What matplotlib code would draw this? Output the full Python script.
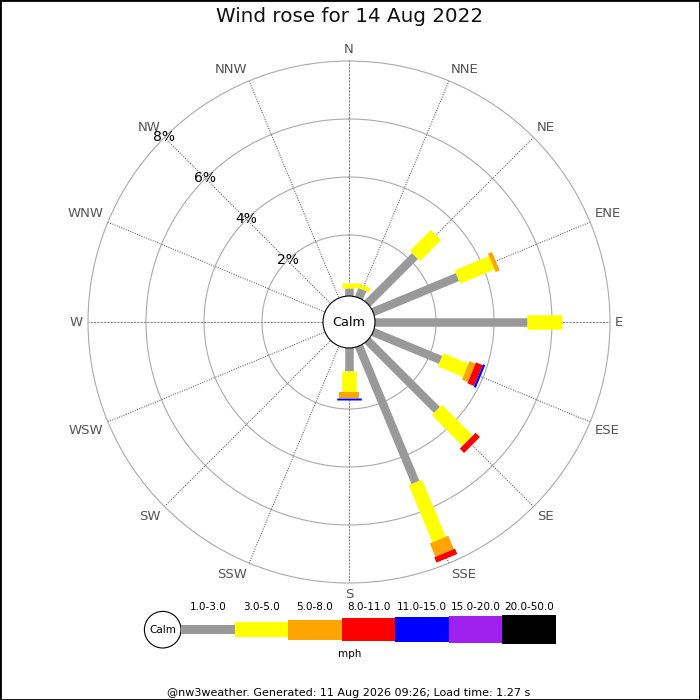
import numpy as np
import matplotlib
matplotlib.use('Agg')
import matplotlib.pyplot as plt
from matplotlib.patches import Circle, Rectangle

# datos: porcentaje de tiempo por direccion y banda de velocidad
direcciones = ['N', 'NNE', 'NE', 'ENE', 'E', 'ESE', 'SE', 'SSE',
               'S', 'SSW', 'SW', 'WSW', 'W', 'WNW', 'NW', 'NNW']
bandas = ['1.0-3.0', '3.0-5.0', '5.0-8.0', '8.0-11.0',
          '11.0-15.0', '15.0-20.0', '20.0-50.0']
colores = ['#999999', '#ffff00', '#ffa500', '#ff0000',
           '#0000ff', '#a020f0', '#000000']
anchos_px = [8.5, 14.5, 20, 22.5, 24.5, 26.5, 28.5]

gris = [0.16, 0.21, 2.22, 3.05, 5.14, 2.42, 3.29, 4.99, 0.69, 0, 0, 0, 0, 0, 0, 0]
amarillo = [0.17, 0.15, 1.02, 1.28, 1.20, 0.94, 1.50, 2.13, 0.71, 0, 0, 0, 0, 0, 0, 0]
naranja = [0, 0, 0, 0.15, 0, 0.22, 0, 0.50, 0.21, 0, 0, 0, 0, 0, 0, 0]
rojo = [0, 0, 0, 0, 0, 0.25, 0.21, 0.20, 0, 0, 0, 0, 0, 0, 0, 0]
azul = [0, 0, 0, 0, 0, 0.08, 0, 0, 0.08, 0, 0, 0, 0, 0, 0, 0]
morado = [0] * 16
negro = [0] * 16

anillos = [2, 4, 6, 8]
titulo = 'Wind rose for 14 Aug 2022'
pie = '@nw3weather. Generated: 11 Aug 2026 09:26; Load time: 1.27 s'

R_MIN = -1
R_MAX = 8

fig = plt.figure(figsize=(7, 7), dpi=100)
ax = fig.add_axes([88 / 700, 117 / 700, 522 / 700, 522 / 700], projection='polar')
ax.set_theta_zero_location('N')
ax.set_theta_direction(-1)
ax.set_ylim(R_MIN, R_MAX)
ax.grid(False)
ax.set_xticks([])
ax.set_yticks([])
ax.spines['polar'].set_color('#aaaaaa')
ax.spines['polar'].set_linewidth(0.8)

angulos = np.deg2rad(np.arange(16) * 22.5)
circ = np.linspace(0, 2 * np.pi, 400)
for r in anillos[:-1]:
    ax.plot(circ, [r] * len(circ), color='#aaaaaa', lw=0.8, zorder=1)

for i, th in enumerate(angulos):
    if i % 4 == 0:
        ax.plot([th, th], [R_MIN, R_MAX], color='#888888', lw=0.8,
                linestyle=(0, (2, 1)), zorder=1)
    else:
        ax.plot([th, th], [R_MIN, R_MAX], color='#444444', lw=0.7,
                linestyle=(0, (1, 1.5)), zorder=1)

# barras apiladas
series = [gris, amarillo, naranja, rojo, azul, morado, negro]
acum = np.cumsum(np.array(series), axis=0)
for i, th in enumerate(angulos):
    inicio = R_MIN
    for b in range(len(series)):
        fin = acum[b, i]
        if series[b][i] > 0:
            ax.plot([th, th], [inicio, fin], color=colores[b],
                    lw=anchos_px[b] * 0.72, solid_capstyle='butt', zorder=3 + b)
        inicio = fin

# etiquetas de direccion
for nombre, th in zip(direcciones, angulos):
    s, c = np.sin(th), np.cos(th)
    ha = 'left' if s > 0.01 else ('right' if s < -0.01 else 'center')
    va = 'bottom' if c > 0.01 else ('top' if c < -0.01 else 'center')
    ax.text(th, R_MAX + 0.17, nombre, ha=ha, va=va, fontsize=9.5,
            color='#555555', clip_on=False)

# etiquetas de porcentaje
for r in anillos:
    ax.text(np.deg2rad(315), r, f'{r}%', ha='center', va='center',
            fontsize=10, color='black', zorder=10)

# capa en pixeles para circulo calm y leyenda
ov = fig.add_axes([0, 0, 1, 1])
ov.set_xlim(0, 700)
ov.set_ylim(700, 0)
ov.axis('off')
ov.patch.set_visible(False)

ov.add_patch(Circle((349, 322), 26, facecolor='white', edgecolor='black', lw=0.8, zorder=20))
ov.text(349, 322, 'Calm', ha='center', va='center', fontsize=9.3, zorder=21)

ov.add_patch(Circle((162.7, 629.7), 18.3, facecolor='white', edgecolor='black', lw=0.8))
ov.text(162.7, 630, 'Calm', ha='center', va='center', fontsize=7.5)
x0 = 181
paso = (556 - 181) / len(bandas)
for b, (lab, col, w) in enumerate(zip(bandas, colores, anchos_px)):
    ov.add_patch(Rectangle((x0 + b * paso, 629.5 - w / 2), paso, w,
                           facecolor=col, edgecolor='none'))
    ov.text(x0 + b * paso + paso / 2, 607.5, lab, ha='center', va='center', fontsize=7.5)
ov.text(350, 654, 'mph', ha='center', va='center', fontsize=7.5)

fig.text(0.5, 1 - 17 / 700, titulo, ha='center', va='center', fontsize=14.3, color='#111111')
fig.text(349 / 700, 1 - 692.5 / 700, pie, ha='center', va='center', fontsize=8)

fig.add_artist(Rectangle((0, 0), 1, 1, transform=fig.transFigure, fill=False,
                         edgecolor='black', lw=2))

fig.savefig('out.png', dpi=100)
